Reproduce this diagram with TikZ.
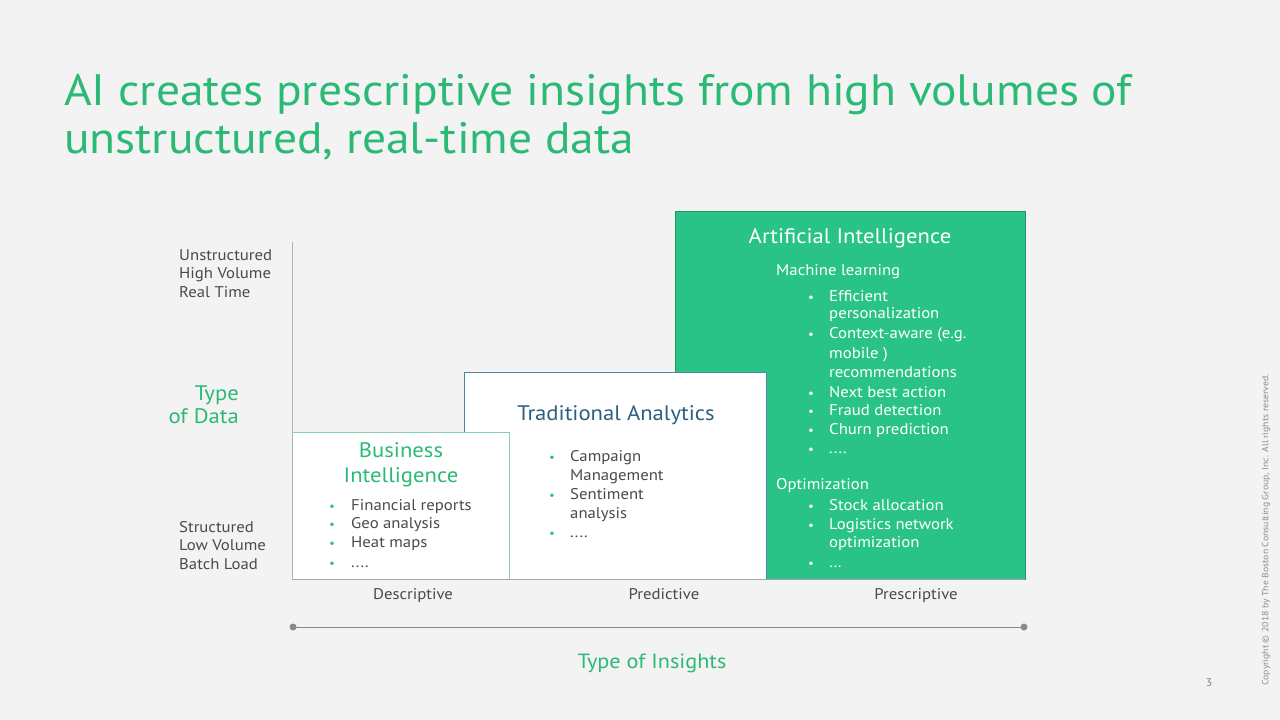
\documentclass[tikz,border=0pt]{standalone}
\usepackage{fontspec}
\setmainfont{PT Sans}[FakeStretch=1.08]
\definecolor{bg}{HTML}{F3F3F3}
\definecolor{bcggreen}{HTML}{2BBA76}
\definecolor{boxgreen}{HTML}{29C388}
\definecolor{boxgreenline}{HTML}{1F9A66}
\definecolor{tablue}{HTML}{2A5F7F}
\definecolor{taline}{HTML}{4F86A3}
\definecolor{biline}{HTML}{7FD4B2}
\definecolor{txt}{HTML}{4A4A4A}
\definecolor{axisgray}{HTML}{8A8A8A}
\newcommand{\Ln}[5]{\node[#1] (#2) at (#3,#4) {#5};}
\begin{document}
\begin{tikzpicture}[x=1pt,y=-1pt,
  body/.style={anchor=base west, inner sep=0pt, font=\fontsize{15.5}{18}\selectfont, text=txt},
  bodyw/.style={body, text=white},
  bdot/.style={anchor=base, inner sep=0pt, font=\fontsize{12}{12}\selectfont, text=boxgreen},
  wdot/.style={bdot, text=white},
  boxtitle/.style={anchor=base, inner sep=0pt, font=\fontsize{21}{24}\selectfont},
  panel/.style={anchor=north west, inner sep=0pt, line width=0.8pt},
  ]
\fill[bg] (0,0) rectangle (1280,720);
\useasboundingbox (0,0) rectangle (1280,720);

% title
\node[anchor=base west, inner sep=0pt, font=\fontsize{44}{48}\selectfont, text=bcggreen] (title1) at (64,105) {AI creates prescriptive insights from high volumes of};
\node[anchor=base west, inner sep=0pt, font=\fontsize{44}{48}\selectfont, text=bcggreen] (title2) at (64,153) {unstructured, real-time data};

% panels
\node[panel, fill=boxgreen, draw=boxgreenline, minimum width=350pt, minimum height=368pt] (ai) at (675,211) {};
\node[panel, fill=white, draw=taline, minimum width=302pt, minimum height=207pt] (ta) at (464,372) {};
\node[panel, fill=white, draw=biline, minimum width=217pt, minimum height=147pt] (bi) at (292,432) {};

% axes
\coordinate (vtop) at (292,242);
\coordinate (orig) at (292,579);
\coordinate (hend) at (1025,579);
\draw[line width=0.8pt, color=black!30] (vtop) -- (orig);
\draw[line width=0.8pt, color=black!35] (orig) -- (hend);

% left labels
\Ln{body}{u1}{179}{260}{Unstructured}
\Ln{body}{u2}{179}{278}{High Volume}
\Ln{body}{u3}{179}{297}{Real Time}
\Ln{body}{s1}{179}{532}{Structured}
\Ln{body}{s2}{179}{550}{Low Volume}
\Ln{body}{s3}{179}{569}{Batch Load}
\node[anchor=base east, inner sep=0pt, font=\fontsize{21}{24}\selectfont, text=bcggreen] (tod1) at (239,400) {Type};
\node[anchor=base east, inner sep=0pt, font=\fontsize{21}{24}\selectfont, text=bcggreen] (tod2) at (239,423) {of Data};

% BI
\node[boxtitle, text=bcggreen] (bit1) at (401,457) {Business};
\node[boxtitle, text=bcggreen] (bit2) at (401,482) {Intelligence};
\Ln{bdot}{bid1}{332}{510}{•}
\Ln{body}{bi1}{351}{510}{Financial reports}
\Ln{bdot}{bid2}{332}{528}{•}
\Ln{body}{bi2}{351}{528}{Geo analysis}
\Ln{bdot}{bid3}{332}{547}{•}
\Ln{body}{bi3}{351}{547}{Heat maps}
\Ln{bdot}{bid4}{332}{567}{•}
\Ln{body}{bi4}{351}{567}{....}

% TA
\node[boxtitle, text=tablue] (tat) at (616,420) {Traditional Analytics};
\Ln{bdot}{tad1}{552}{461}{•}
\Ln{body}{ta1}{570}{461}{Campaign}
\Ln{body}{ta1b}{570}{480}{Management}
\Ln{bdot}{tad2}{552}{499}{•}
\Ln{body}{ta2}{570}{499}{Sentiment}
\Ln{body}{ta2b}{570}{518}{analysis}
\Ln{bdot}{tad3}{552}{537}{•}
\Ln{body}{ta3}{570}{537}{....}

% AI
\node[boxtitle, text=white] (ait) at (850,243) {Artificial Intelligence};
\Ln{bodyw}{ml}{776}{275}{Machine learning}
\Ln{wdot}{aid1}{811}{301}{•}
\Ln{bodyw}{ai1}{829}{301}{Efficient}
\Ln{bodyw}{ai1b}{829}{318}{personalization}
\Ln{wdot}{aid2}{811}{338}{•}
\Ln{bodyw}{ai2}{829}{338}{Context-aware (e.g.}
\Ln{bodyw}{ai2b}{829}{358}{mobile )}
\Ln{bodyw}{ai2c}{829}{377}{recommendations}
\Ln{wdot}{aid3}{811}{397}{•}
\Ln{bodyw}{ai3}{829}{397}{Next best action}
\Ln{wdot}{aid4}{811}{415}{•}
\Ln{bodyw}{ai4}{829}{415}{Fraud detection}
\Ln{wdot}{aid5}{811}{434}{•}
\Ln{bodyw}{ai5}{829}{434}{Churn prediction}
\Ln{wdot}{aid6}{811}{453}{•}
\Ln{bodyw}{ai6}{829}{453}{....}
\Ln{bodyw}{opt}{776}{489}{Optimization}
\Ln{wdot}{aid7}{811}{510}{•}
\Ln{bodyw}{ai7}{829}{510}{Stock allocation}
\Ln{wdot}{aid8}{811}{529}{•}
\Ln{bodyw}{ai8}{829}{529}{Logistics network}
\Ln{bodyw}{ai8b}{829}{547}{optimization}
\Ln{wdot}{aid9}{811}{567}{•}
\Ln{bodyw}{ai9}{829}{567}{…}

% x labels
\node[anchor=base, inner sep=0pt, font=\fontsize{15.5}{18}\selectfont, text=txt] (xd) at (413,599) {Descriptive};
\node[anchor=base, inner sep=0pt, font=\fontsize{15.5}{18}\selectfont, text=txt] (xp) at (664,599) {Predictive};
\node[anchor=base, inner sep=0pt, font=\fontsize{15.5}{18}\selectfont, text=txt] (xs) at (916,599) {Prescriptive};

% insights axis
\coordinate (al) at (293,627);
\coordinate (ar) at (1024,627);
\draw[line width=1pt, color=axisgray] (al) -- (ar);
\fill[axisgray] (al) circle (3.5pt);
\fill[axisgray] (ar) circle (3.5pt);
\node[anchor=base, inner sep=0pt, font=\fontsize{20.6}{24}\selectfont, text=bcggreen] (toi) at (652,668) {Type of Insights};

% page number & copyright
\node[anchor=base, inner sep=0pt, font=\fontsize{11}{12}\selectfont, text=black!50] (pg) at (1209,686) {3};
\node[rotate=90, inner sep=0pt, font=\fontsize{9}{10}\selectfont, text=black!45] (copy) at (1266,530) {Copyright © 2018 by The Boston Consulting Group, Inc. All rights reserved.};
\end{tikzpicture}
\end{document}
